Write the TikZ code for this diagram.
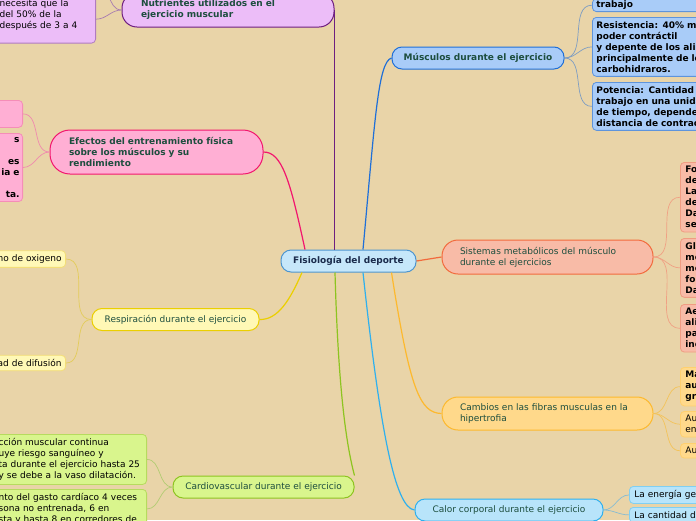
\documentclass[tikz,border=0pt]{standalone}
\usepackage{fontspec}
\setmainfont{DejaVu Sans}
\usepackage{tikz}
\usetikzlibrary{positioning}
\usepackage{xcolor}

\definecolor{mapbg}{HTML}{E9D4A8}
\definecolor{centfill}{HTML}{C6E7FA}
\definecolor{centdraw}{HTML}{4D95CF}
\definecolor{centtxt}{HTML}{1A2B4C}
\definecolor{topictxt}{HTML}{1D4E3E}
\definecolor{nutfill}{HTML}{ECBDF8}
\definecolor{nutdraw}{HTML}{6E1E80}
\definecolor{nutleaf}{HTML}{B07BC0}
\definecolor{nuttwig}{HTML}{A87CB0}
\definecolor{musfill}{HTML}{A9CCF8}
\definecolor{musdraw}{HTML}{1F6FD8}
\definecolor{musleaf}{HTML}{5E94DC}
\definecolor{mustwig}{HTML}{7E9DC2}
\definecolor{efefill}{HTML}{FFAFD4}
\definecolor{efedraw}{HTML}{F2166E}
\definecolor{efeleaf}{HTML}{F58DB8}
\definecolor{efetwig}{HTML}{F08AAE}
\definecolor{respfill}{HTML}{FFF8B6}
\definecolor{respdraw}{HTML}{EBCF00}
\definecolor{respleaf}{HTML}{F3DE78}
\definecolor{resptwig}{HTML}{E3CC5A}
\definecolor{sistfill}{HTML}{F8BBA7}
\definecolor{sistdraw}{HTML}{F26A3C}
\definecolor{sistleaf}{HTML}{F09C82}
\definecolor{sisttwig}{HTML}{F0A184}
\definecolor{cambfill}{HTML}{FFD98B}
\definecolor{cambdraw}{HTML}{FDB92E}
\definecolor{cambleaf}{HTML}{FFD06E}
\definecolor{cambtwig}{HTML}{F3C35A}
\definecolor{calfill}{HTML}{B8E4FA}
\definecolor{caldraw}{HTML}{2FB0EE}
\definecolor{calleaf}{HTML}{80CFF2}
\definecolor{caltwig}{HTML}{88BCD2}
\definecolor{cardfill}{HTML}{D9F58D}
\definecolor{carddraw}{HTML}{8DC420}
\definecolor{cardleaf}{HTML}{B6DB5E}
\definecolor{cardtwig}{HTML}{B2CC72}

\tikzset{
  topic/.style={draw, line width=1pt, rounded corners=10pt, inner sep=0pt,
    minimum height=22pt, text=topictxt, font=\fontsize{9}{11}\selectfont},
  topicb/.style={topic, font=\fontsize{9}{11}\selectfont\bfseries},
  leaf/.style={draw, line width=0.8pt, rounded corners=4pt, inner xsep=4pt,
    inner ysep=4pt, text=black, font=\fontsize{9}{11}\selectfont, align=left},
  leafb/.style={leaf, font=\fontsize{9}{11}\selectfont\bfseries},
  link/.style={line width=1.2pt},
  twig/.style={line width=0.7pt}
}

\begin{document}
\begin{tikzpicture}[x=1pt, y=-1pt]
  \useasboundingbox (0,0) rectangle (696,520);
  \fill[mapbg] (0,0) rectangle (696,520);
  \clip (0,0) rectangle (696,520);

  % main branches
  \node[topicb, fill=centfill, draw=centdraw, text=centtxt, minimum width=135pt]
    (central) at (348.5,261) {Fisiología del deporte};
  \node[topicb, fill=nutfill, draw=nutdraw, minimum width=212pt, minimum height=34pt,
        text width=174pt, align=left, rounded corners=15pt]
    (nutr) at (228,10) {Nutrientes utilizados en el\\ejercicio muscular};
  \node[topicb, fill=musfill, draw=musdraw, minimum width=172pt]
    (mus) at (478,58) {Músculos durante el ejercicio};
  \node[topicb, fill=efefill, draw=efedraw, minimum width=213pt, minimum height=44pt,
        text width=175pt, align=left, rounded corners=20pt]
    (efectos) at (156.5,152) {Efectos del entrenamiento física\\sobre los músculos y su\\rendimiento};
  \node[topic, fill=respfill, draw=respdraw, minimum width=167pt]
    (resp) at (175.5,319.5) {Respiración durante el ejercicio};
  \node[topic, fill=sistfill, draw=sistdraw, minimum width=211pt, minimum height=34pt,
        text width=175pt, align=left, rounded corners=16pt]
    (sist) at (547.5,257) {Sistemas metabólicos del músculo\\durante el ejercicios};
  \node[topic, fill=cambfill, draw=cambdraw, minimum width=211pt, minimum height=33pt,
        text width=175pt, align=left, rounded corners=16pt]
    (camb) at (547.5,413.5) {Cambios en las fibras musculas en la\\hipertrofia};
  \node[topic, fill=calfill, draw=caldraw, minimum width=188pt]
    (calor) at (509,510) {Calor corporal durante el ejercicio};
  \node[topic, fill=cardfill, draw=carddraw, minimum width=181pt]
    (cardio) at (263.5,487) {Cardiovascular durante el ejercicio};

  % leaves
  \node[leaf, fill=nutfill, draw=nutleaf, text width=92pt, anchor=south east]
    (n1) at (96,43.5) {necesita que la\\del 50\% de la\\después de 3 a 4\\\mbox{}};
  \coordinate (n0) at (96,-18);

  \node[leafb, fill=musfill, draw=musleaf, minimum width=150pt, text width=142pt,
        inner ysep=2pt, anchor=south west]
    (m1) at (592,12) {trabajo};
  \node[leafb, fill=musfill, draw=musleaf, minimum width=150pt, text width=142pt, anchor=north west]
    (m2) at (592,17) {Resistencia: 40\% m\\poder contráctil\\y depente de los alim\\principalmente de lo\\carbohidraros.};
  \node[leafb, fill=musfill, draw=musleaf, minimum width=150pt, text width=142pt, anchor=north west]
    (m3) at (592,82) {Potencia: Cantidad t\\trabajo en una unida\\de tiempo, depende\\distancia de contrac};

  \node[leaf, fill=efefill, draw=efeleaf, minimum width=60pt, minimum height=27pt, anchor=north east]
    (e1) at (23,100) {};
  \node[leafb, fill=efefill, draw=efeleaf, text width=62pt, align=right, anchor=north east, inner xsep=3pt]
    (e2) at (23,133) {s\\\mbox{}\\es\\ia e\\\mbox{}\\ta.};

  \node[leaf, fill=respfill, draw=respleaf, text width=80pt, align=right, anchor=east]
    (r1) at (66,259) {no de oxigeno};
  \node[leaf, fill=respfill, draw=respleaf, text width=80pt, align=right, anchor=east]
    (r2) at (66,363) {ad de difusión};

  \node[leafb, fill=sistfill, draw=sistleaf, minimum width=110pt, text width=100pt, anchor=north west]
    (s1) at (680,162) {Fo\\de\\La\\de\\Da\\se};
  \node[leafb, fill=sistfill, draw=sistleaf, minimum width=110pt, text width=100pt, anchor=north west]
    (s2) at (680,238) {Gl\\me\\me\\for\\Da};
  \node[leafb, fill=sistfill, draw=sistleaf, minimum width=110pt, text width=100pt, anchor=north west]
    (s3) at (680,304) {Ae\\ali\\pa\\inc};

  \node[leafb, fill=cambfill, draw=cambleaf, minimum width=110pt, text width=100pt, anchor=north west]
    (c1) at (680,367) {Ma\\au\\gr};
  \node[leaf, fill=cambfill, draw=cambleaf, minimum width=110pt, text width=100pt, anchor=north west]
    (c2) at (680,411) {Au\\enz};
  \node[leaf, fill=cambfill, draw=cambleaf, minimum width=110pt, text width=100pt, anchor=north west]
    (c3) at (680,443) {Au};

  \node[leaf, fill=calfill, draw=calleaf, minimum width=110pt, text width=100pt, anchor=north west]
    (k1) at (629,486) {La energía ge};
  \node[leaf, fill=calfill, draw=calleaf, minimum width=110pt, text width=100pt, anchor=north west]
    (k2) at (629,507) {La cantidad de};

  \node[leaf, fill=cardfill, draw=cardleaf, text width=144pt, anchor=north east]
    (g1) at (147,434) {cción muscular continua\\uye riesgo sanguíneo y\\ta durante el ejercicio hasta 25\\y se debe a la vaso dilatación.};
  \node[leaf, fill=cardfill, draw=cardleaf, text width=144pt, anchor=north east]
    (g2) at (147,489) {nto del gasto cardíaco 4 veces\\sona no entrenada, 6 en\\sta y hasta 8 en corredores de};

  % connectors from the centre
  \draw[link, nutdraw] (central.north -| nutr.east) -- (nutr.east);
  \draw[link, musdraw] ([xshift=14.5pt]central.north) .. controls (375,120) and (378,62) .. (mus.west);
  \draw[link, efedraw] ([xshift=-43.5pt]central.north) .. controls (290,180) and (282,152) .. (efectos.east);
  \draw[link, respdraw] ([xshift=-46.5pt]central.south) .. controls (290,300) and (278,320) .. (resp.east);
  \draw[link, sistdraw] (central.east) -- (sist.west);
  \draw[link, cambdraw] ([xshift=43pt]central.south) .. controls (410,390) and (420,413) .. (camb.west);
  \draw[link, caldraw] ([xshift=14.5pt]central.south) .. controls (380,430) and (395,508) .. (calor.west);
  \draw[link, carddraw] ([xshift=-13.5pt]central.south) .. controls (338,380) and (345,440) .. (cardio.north east);

  % connectors to the leaves
  \draw[twig, nuttwig] (nutr.west) to[out=180, in=0] (n1.east);
  \draw[twig, nuttwig] (nutr.west) to[out=180, in=0] (n0);
  \foreach \n in {m1,m2,m3}
    \draw[twig, mustwig] (mus.east) to[out=0, in=180] (\n.west);
  \foreach \n in {e1,e2}
    \draw[twig, efetwig] (efectos.west) to[out=180, in=0] (\n.east);
  \foreach \n in {r1,r2}
    \draw[twig, resptwig] (resp.west) to[out=180, in=0] (\n.east);
  \foreach \n in {s1,s2,s3}
    \draw[twig, sisttwig] (sist.east) to[out=0, in=180] (\n.west);
  \foreach \n in {c1,c2,c3}
    \draw[twig, cambtwig] (camb.east) to[out=0, in=180] (\n.west);
  \foreach \n in {k1,k2}
    \draw[twig, caltwig] (calor.east) to[out=0, in=180] (\n.west);
  \foreach \n in {g1,g2}
    \draw[twig, cardtwig] (cardio.west) to[out=180, in=0] (\n.east);
\end{tikzpicture}
\end{document}
